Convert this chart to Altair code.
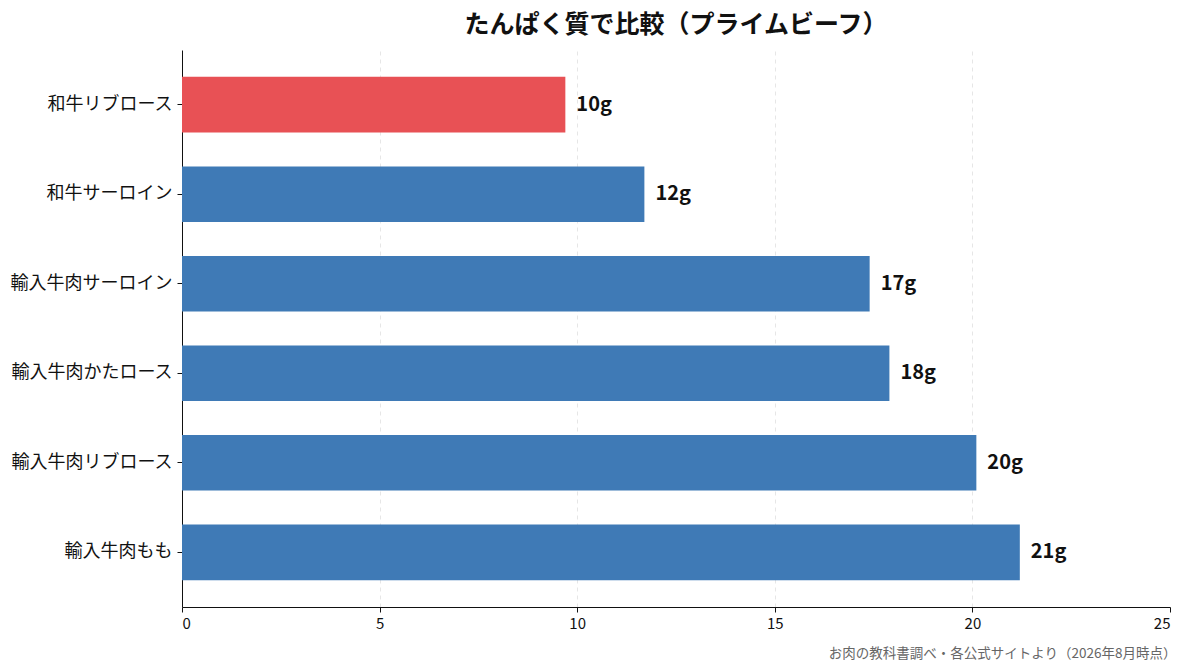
"""Protein comparison bar chart (prime beef)."""

import pandas as pd
import altair as alt

FONT = 'Noto Sans CJK JP'

cuts = ['和牛リブロース', '和牛サーロイン', '輸入牛肉サーロイン',
        '輸入牛肉かたロース', '輸入牛肉リブロース', '輸入牛肉もも']
protein = [9.7, 11.7, 17.4, 17.9, 20.1, 21.2]
value_labels = ['10g', '12g', '17g', '18g', '20g', '21g']
highlight = [True, False, False, False, False, False]

df = pd.DataFrame({
    'cut': cuts,
    'protein': protein,
    'label': value_labels,
    'highlight': highlight,
})

base = alt.Chart(df).encode(
    y=alt.Y('cut:N', sort=cuts, title=None,
            scale=alt.Scale(paddingInner=0.38, paddingOuter=0.3),
            axis=alt.Axis(labelFont=FONT, labelFontSize=18, labelColor='#111',
                          labelPadding=5, tickSize=5, tickColor='#111',
                          domainColor='#111', grid=False)),
    x=alt.X('protein:Q', title='お肉の教科書調べ・各公式サイトより（2026年8月時点）',
            scale=alt.Scale(domain=[0, 25], nice=False),
            axis=alt.Axis(values=[0, 5, 10, 15, 20, 25], labelFont=FONT,
                          labelFontSize=15, labelColor='#111', tickColor='#111',
                          domainColor='#111', tickSize=5, labelPadding=4,
                          grid=True, gridDash=[4, 4], gridColor='#e6e6e6',
                          gridOpacity=alt.condition('datum.value >= 25',
                                                    alt.value(0), alt.value(1)),
                          titleFont=FONT, titleFontSize=13.5, titleFontWeight='normal',
                          titleColor='#666', titleAnchor='end', titleAlign='right',
                          titleX=994, titlePadding=15)),
)

bars = base.mark_bar().encode(
    color=alt.Color('highlight:N', legend=None,
                    scale=alt.Scale(domain=[True, False], range=['#e85155', '#3f7ab6'])),
)

text = base.mark_text(align='left', baseline='middle', dx=11, font=FONT,
                      fontSize=20, fontWeight='bold', color='#111').encode(
    text='label:N',
)

chart = alt.layer(bars, text).properties(
    width=988,
    height=557,
    padding={'top': 5, 'left': 2, 'right': 0, 'bottom': 2},
    title=alt.TitleParams('たんぱく質で比較（プライムビーフ）', font=FONT, fontSize=25,
                          fontWeight='bold', color='#111', offset=12),
).configure_view(stroke=None)

chart.save("out.html", embed_options={"renderer": "svg", "actions": False})
